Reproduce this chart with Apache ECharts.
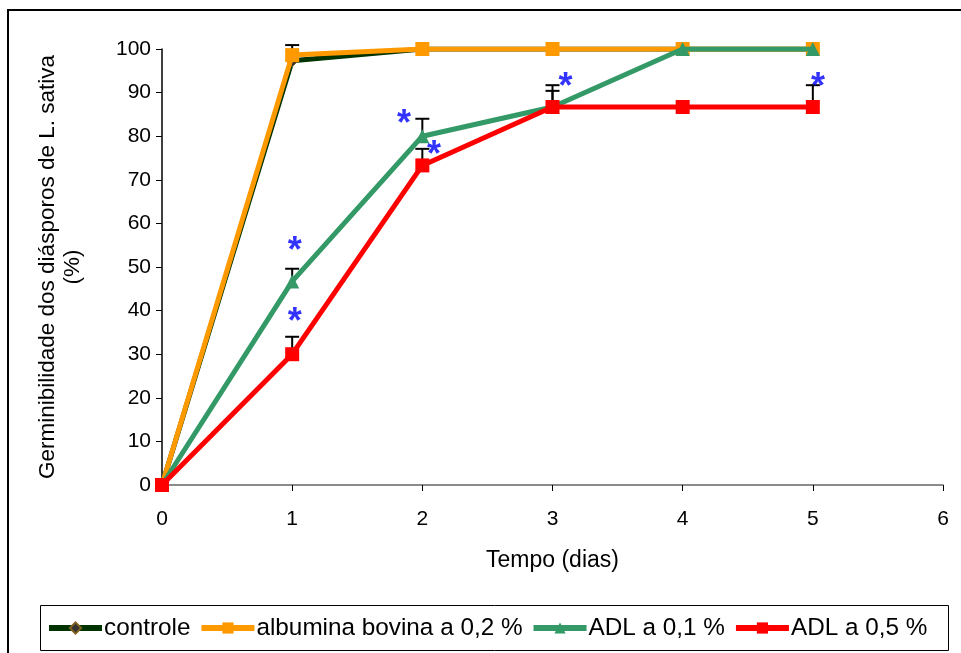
<!DOCTYPE html>
<html><head><meta charset="utf-8">
<script src="https://cdn.jsdelivr.net/npm/echarts@6/dist/echarts.min.js"></script>
<style>html,body{margin:0;padding:0;background:#fff}#c{width:961px;height:653px}</style>
</head><body><div id="c"></div>
<script>
const days = [0, 1, 2, 3, 4, 5];
const controle = [0, 97.3, 100, 100, 100, 100];
const albumina = [0, 98.6, 100, 100, 100, 100];
const adl01 = [0, 46.7, 80, 86.7, 100, 100];
const adl05 = [0, 30, 73.3, 86.7, 86.7, 86.7];
// error bars [x, base, top]
const errControle = [[1, 97.3, 100.9]];
const errAdl01 = [[1, 46.7, 49.6], [2, 80, 84.0], [3, 86.7, 91.7]];
const errAdl05 = [[1, 30, 34.0], [2, 73.3, 77.1], [3, 86.7, 90.4], [5, 86.7, 91.7]];
// significance asterisks [x, y]
const stars = [[1.02, 55.5], [1.02, 39.3], [1.86, 84.6], [2.09, 77.6], [3.1, 93.0], [5.04, 93.0]];
const names = ['controle', 'albumina bovina a 0,2 %', 'ADL a 0,1 %', 'ADL a 0,5 %'];
const xTicks = [0, 6, 1];
const yTicks = [0, 100, 10];

const chart = echarts.init(document.getElementById('c'));
const F = 'Liberation Sans, Arial, sans-serif';
function pairs(arr){ return arr.map((v,i)=>[days[i], v]); }
function errSeries(data){
  return {
    type: 'custom', data: data, z: 1, silent: true,
    renderItem: function(params, api){
      const b = api.coord([api.value(0), api.value(1)]);
      const t = api.coord([api.value(0), api.value(2)]);
      const w = 7;
      return {type: 'group', children: [
        {type: 'line', shape: {x1: b[0], y1: b[1], x2: t[0], y2: t[1]}, style: {stroke: '#000', lineWidth: 2}},
        {type: 'line', shape: {x1: t[0]-w, y1: t[1], x2: t[0]+w, y2: t[1]}, style: {stroke: '#000', lineWidth: 2}}
      ]};
    },
    encode: {x: 0, y: [1, 2]}
  };
}
const option = {
  animation: false,
  backgroundColor: '#fff',
  grid: {left: 162, right: 18, top: 49, bottom: 168, containLabel: false},
  xAxis: {
    type: 'value', min: xTicks[0], max: xTicks[1], interval: xTicks[2],
    name: 'Tempo (dias)', nameLocation: 'middle', nameGap: 64,
    nameTextStyle: {fontFamily: F, fontSize: 23, color: '#000'},
    axisLine: {lineStyle: {color: '#666', width: 1.5}},
    axisTick: {show: true, length: 6, lineStyle: {color: '#000'}},
    axisLabel: {fontFamily: F, fontSize: 21, color: '#000', margin: 24},
    splitLine: {show: false}
  },
  yAxis: {
    type: 'value', min: yTicks[0], max: yTicks[1], interval: yTicks[2],
    name: 'Germinibilidade dos diásporos de L. sativa\n(%)', nameLocation: 'middle', nameGap: 77,
    nameTextStyle: {fontFamily: F, fontSize: 22.5, color: '#000', lineHeight: 25},
    axisLine: {show: true, lineStyle: {color: '#000', width: 1.5}},
    axisTick: {show: true, length: 6, lineStyle: {color: '#000'}},
    axisLabel: {fontFamily: F, fontSize: 21, color: '#000', margin: 11},
    splitLine: {show: false}
  },
  legend: {
    left: 46, top: 616, padding: 0,
    itemGap: 8, itemWidth: 53, itemHeight: 14,
    lineStyle: {width: 6},
    textStyle: {fontFamily: F, fontSize: 24.3, color: '#000', padding: [0, 0, 0, -3]},
    data: names
  },
  graphic: [
    {type: 'polyline', shape: {points: [[8, 700], [8, 10], [970, 10]]}, style: {stroke: '#000', lineWidth: 2, fill: null}, silent: true},
    {type: 'rect', shape: {x: 40.5, y: 605.5, width: 908, height: 45}, style: {stroke: '#000', lineWidth: 1, fill: null}, silent: true}
  ],
  series: [
    errSeries(errControle),
    {name: names[0], type: 'line', data: pairs(controle), color: '#003300', symbol: 'diamond', symbolSize: 12,
     lineStyle: {width: 5, color: '#003300'}, itemStyle: {color: '#333', borderColor: '#806020', borderWidth: 1}, z: 2},
    {name: names[1], type: 'line', data: pairs(albumina), color: '#FF9900', symbol: 'rect', symbolSize: 14,
     lineStyle: {width: 5, color: '#FF9900'}, itemStyle: {color: '#FF9900'}, z: 3},
    errSeries(errAdl01),
    errSeries(errAdl05),
    {name: names[2], type: 'line', data: pairs(adl01), color: '#339966', symbol: 'triangle', symbolSize: 14,
     lineStyle: {width: 5, color: '#339966'}, itemStyle: {color: '#339966'}, z: 4},
    {name: names[3], type: 'line', data: pairs(adl05), color: '#FF0000', symbol: 'rect', symbolSize: 14,
     lineStyle: {width: 5, color: '#FF0000'}, itemStyle: {color: '#FF0000'}, z: 5},
    {type: 'scatter', data: stars, symbolSize: 0, z: 6, silent: true,
     label: {show: true, position: 'inside', formatter: '*', fontFamily: F, fontSize: 36, fontWeight: 'bold', color: '#0000FF', offset: [0, 9]}}
  ]
};
chart.setOption(option);
</script></body></html>
